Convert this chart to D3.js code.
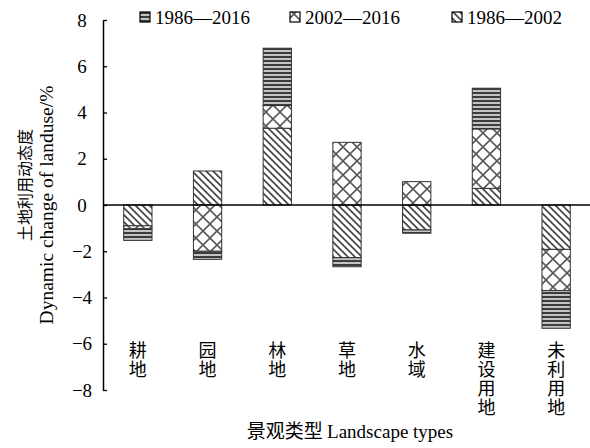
<!DOCTYPE html>
<html>
<head>
<meta charset="utf-8">
<script src="https://cdn.jsdelivr.net/npm/d3@7"></script>
<style>
  html, body { margin: 0; padding: 0; background: #fff; }
  svg { display: block; }
  text { fill: #000; }
  .serif { font-family: "Liberation Serif", "Times New Roman", serif !important; }
</style>
</head>
<body>
<svg id="chart" width="590" height="448"></svg>
<script>
// ---- data ----
const categories = ["耕地", "园地", "林地", "草地", "水域", "建设用地", "未利用地"];
const series8602 = [-0.90, 1.47, 3.32, -2.28, -1.08, 0.72, -1.92];  // 1986—2002
const series0216 = [-0.13, -2.00, 0.98, 2.71, 1.01, 2.57, -1.78];  // 2002—2016
const series8616 = [-0.50, -0.35, 2.48, -0.39, -0.14, 1.76, -1.63]; // 1986—2016
const seriesNames = ["1986—2002", "2002—2016", "1986—2016"];
const legendOrder = ["1986—2016", "2002—2016", "1986—2002"];
const yTicks = [8, 6, 4, 2, 0, -2, -4, -6, -8];

const rows = categories.map((c, i) => ({
  cat: c,
  "1986—2002": series8602[i],
  "2002—2016": series0216[i],
  "1986—2016": series8616[i]
}));

const svg = d3.select("#chart");
const serif = "Liberation Serif, Times New Roman, serif";
const cjk = "Noto Sans CJK SC, sans-serif";

// ---- patterns ----
const defs = svg.append("defs");
const pH = defs.append("pattern").attr("id", "pH").attr("patternUnits", "userSpaceOnUse")
  .attr("width", 6).attr("height", 4);
pH.append("rect").attr("width", 6).attr("height", 4).attr("fill", "#c4c4c4");
pH.append("rect").attr("y", 0).attr("width", 6).attr("height", 2).attr("fill", "#3c3c3c");
const pX = defs.append("pattern").attr("id", "pX").attr("patternUnits", "userSpaceOnUse")
  .attr("width", 14).attr("height", 14);
pX.append("rect").attr("width", 14).attr("height", 14).attr("fill", "#fff");
pX.append("path").attr("d", "M-2,-2L16,16M16,-2L-2,16")
  .attr("stroke", "#5a5a5a").attr("stroke-width", 1.6).attr("fill", "none");
const pD = defs.append("pattern").attr("id", "pD").attr("patternUnits", "userSpaceOnUse")
  .attr("width", 7).attr("height", 7);
pD.append("rect").attr("width", 7).attr("height", 7).attr("fill", "#fff");
pD.append("path").attr("d", "M-2,-2L9,9M-2,5L2,9M5,-2L9,2")
  .attr("stroke", "#4a4a4a").attr("stroke-width", 1.8).attr("fill", "none");

const fills = { "1986—2016": "url(#pH)", "2002—2016": "url(#pX)", "1986—2002": "url(#pD)" };

// ---- scales ----
const x = d3.scaleBand().domain(categories).range([103, 591])
  .paddingInner(0.594).paddingOuter(0.297);
const y = d3.scaleLinear().domain([-8, 8]).range([390, 20]);

// ---- stacked bars ----
const stack = d3.stack().keys(seriesNames).offset(d3.stackOffsetDiverging);
const stacked = stack(rows);

const gBars = svg.append("g");
stacked.forEach(s => {
  gBars.selectAll(null).data(s).enter().append("rect")
    .attr("x", d => x(d.data.cat))
    .attr("width", x.bandwidth())
    .attr("y", d => y(Math.max(d[0], d[1])))
    .attr("height", d => Math.abs(y(d[0]) - y(d[1])))
    .attr("fill", fills[s.key])
    .attr("stroke", "#333")
    .attr("stroke-width", 1);
});

// ---- zero line ----
svg.append("line")
  .attr("x1", 103).attr("x2", 591)
  .attr("y1", y(0)).attr("y2", y(0))
  .attr("stroke", "#000").attr("stroke-width", 1.6);

// ---- y axis ----
const yAxis = d3.axisLeft(y).tickValues(yTicks).tickSizeInner(-4).tickSizeOuter(0)
  .tickFormat(d3.format("d"));
const gy = svg.append("g").attr("transform", "translate(103,0)").call(yAxis)
  .attr("font-family", null).attr("font-size", null);
gy.select(".domain").attr("stroke", "#000").attr("stroke-width", 1.5);
gy.selectAll(".tick line").attr("stroke", "#000").attr("stroke-width", 1.3);
gy.selectAll(".tick text")
  .attr("class", "serif")
  .attr("x", -21).attr("text-anchor", "middle").attr("fill", "#000")
  .style("font-size", "19px");

// ---- category labels (vertical, upright characters) ----
svg.append("g").selectAll("text").data(categories).enter().append("text")
  .attr("x", c => x(c) + x.bandwidth() / 2)
  .attr("y", 341)
  .style("writing-mode", "vertical-rl")
  .style("text-orientation", "upright")
  .style("letter-spacing", "1px")
  .attr("font-family", cjk).attr("font-size", 18)
  .text(c => c);

// ---- axis titles ----
svg.append("text")
  .attr("transform", "translate(31,185) rotate(-90)")
  .attr("text-anchor", "middle")
  .attr("font-family", cjk).attr("font-size", 16)
  .text("土地利用动态度");
svg.append("text")
  .attr("class", "serif")
  .attr("transform", "translate(53,205) rotate(-90)")
  .attr("text-anchor", "middle")
  .style("font-size", "19.5px")
  .text("Dynamic change of landuse/%");
const xt = svg.append("text")
  .attr("x", 350).attr("y", 438)
  .attr("text-anchor", "middle")
  .attr("font-size", 19);
xt.append("tspan").attr("font-family", cjk).text("景观类型 ");
xt.append("tspan").attr("class", "serif").text("Landscape types");

// ---- legend ----
const legendX = [140, 290, 452];
const gLeg = svg.append("g");
legendOrder.forEach((k, i) => {
  gLeg.append("rect")
    .attr("x", legendX[i]).attr("y", 12).attr("width", 10).attr("height", 10)
    .attr("fill", fills[k]).attr("stroke", "#000").attr("stroke-width", 1.2);
  gLeg.append("text")
    .attr("class", "serif")
    .attr("x", legendX[i] + 15).attr("y", 23.5)
    .style("font-size", "19px")
    .text(k);
});
</script>
</body>
</html>
